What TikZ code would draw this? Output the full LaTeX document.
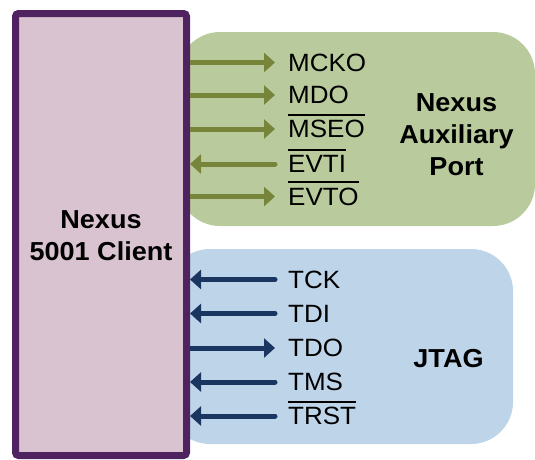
\documentclass[tikz,border=0pt]{standalone}
\usepackage{fontspec}
\setmainfont{Liberation Sans}[FakeStretch=1.04]
\usepackage{tikz}
\usetikzlibrary{arrows.meta}
\definecolor{nxClient}{HTML}{D9C3D0}
\definecolor{nxClientLine}{HTML}{4E2360}
\definecolor{nxAux}{HTML}{B9CB9C}
\definecolor{nxAuxArrow}{HTML}{76853A}
\definecolor{nxJtag}{HTML}{BED5E9}
\definecolor{nxJtagArrow}{HTML}{1B3561}
\newcommand{\sigfont}{\fontsize{25}{28}\selectfont}
\newcommand{\headfont}{\fontsize{26}{32}\selectfont\bfseries}
\newcommand{\ovl}[1]{\vbox{\hrule height 1.8pt\kern 5pt\hbox{#1}}}
\tikzset{
  client/.style={draw=nxClientLine, fill=nxClient, line width=7pt, rounded corners=3pt},
  panel/.style={rounded corners=42pt},
  sig/.style={anchor=west, inner xsep=13pt, inner ysep=0pt, text height=17.9pt, text depth=0pt, font=\sigfont},
  heading/.style={align=center, font=\headfont, inner sep=0pt},
  auxout/.style={line width=5pt, nxAuxArrow, -{Triangle[length=11pt, width=19pt]}},
  auxin/.style={auxout, line cap=round},
  jtagout/.style={line width=5pt, nxJtagArrow, -{Triangle[length=11pt, width=19pt]}},
  jtagin/.style={jtagout, line cap=round}
}
\begin{document}
\begin{tikzpicture}[x=1pt, y=-1pt]
  \useasboundingbox (0,0) rectangle (535,459);
  \clip (0,0) rectangle (535,459);
  % panels
  \path[panel, fill=nxAux] (178,32) rectangle (535,226);
  \path[panel, fill=nxJtag] (168,249) rectangle (513,444);
  % client
  \node[client, minimum width=171pt, minimum height=442pt] (client) at (101,234.5) {};
  \node[heading] (clientname) at (101,235.5) {Nexus\\5001 Client};
  % auxiliary port
  \foreach \s/\y/\txt in {mcko/62.5/MCKO, mdo/95/MDO, mseo/129/\ovl{MSEO}, evti/164/\ovl{EVTI}, evto/196.5/\ovl{EVTO}}
    \node[sig] (\s) at (275,\y) {\txt};
  \foreach \s in {mcko,mdo,mseo,evto}
    \draw[auxout] (client.east |- \s) -- (\s.west);
  \draw[auxin] (evti.west) -- (client.east |- evti);
  \node[heading] (auxname) at (456.5,135) {Nexus\\Auxiliary\\Port};
  % jtag
  \foreach \s/\y/\txt in {tck/279.5/TCK, tdi/313.5/TDI, tdo/348/TDO, tms/382/TMS, trst/416/\ovl{TRST}}
    \node[sig] (\s) at (275,\y) {\txt};
  \foreach \s in {tck,tdi,tms,trst}
    \draw[jtagin] (\s.west) -- (client.east |- \s);
  \draw[jtagout] (client.east |- tdo) -- (tdo.west);
  \node[heading] (jtagname) at (448.5,359) {JTAG};
\end{tikzpicture}
\end{document}
